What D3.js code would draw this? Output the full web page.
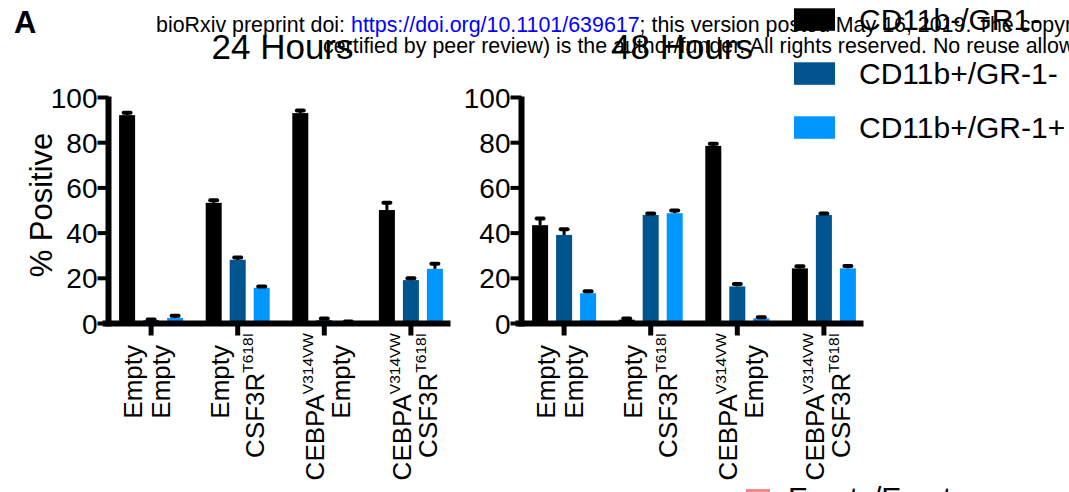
<!DOCTYPE html>
<html>
<head>
<meta charset="utf-8">
<script src="https://cdn.jsdelivr.net/npm/d3@7"></script>
<style>
  html, body { margin: 0; padding: 0; background: #fff; }
  svg { display: block; }
  text { font-family: "Liberation Sans", Arial, sans-serif; }
</style>
</head>
<body>
<svg id="chart" width="1069" height="492"></svg>
<script>
// ---------------- DATA ----------------
const seriesNames = ["CD11b-/GR1-", "CD11b+/GR-1-", "CD11b+/GR-1+"];
const panelTitles = ["24 Hours", "48 Hours"];
const groupIds = ["g1", "g2", "g3", "g4"];
const labelLine1 = ["Empty", "Empty", "CEBPA", "CEBPA"];
const labelLine1Sup = ["", "", "V314VW", "V314VW"];
const labelLine2 = ["Empty", "CSF3R", "Empty", "CSF3R"];
const labelLine2Sup = ["", "T618I", "", "T618I"];
const yTicks = [0, 20, 40, 60, 80, 100];
const yLabel = "% Positive";

// 24 hours
const h24_neg = [92.2, 53.4, 93.1, 50.2];
const h24_neg_err = [1.1, 1.1, 1.2, 3.2];
const h24_mid = [1.5, 28.2, 1.5, 19.2];
const h24_mid_err = [0.3, 1.0, 0.7, 0.8];
const h24_pos = [2.5, 15.8, 0.6, 24.2];
const h24_pos_err = [0.9, 0.6, 0.3, 2.2];
// 48 hours
const h48_neg = [43.5, 1.7, 78.6, 24.4];
const h48_neg_err = [3.0, 0.5, 0.9, 0.9];
const h48_mid = [39.2, 48.0, 16.4, 48.0];
const h48_mid_err = [2.5, 0.7, 1.1, 0.7];
const h48_pos = [13.4, 48.8, 2.3, 24.4];
const h48_pos_err = [0.9, 1.2, 0.5, 1.0];

const secondLegendLabel = "Empty/Empty";
const headerLine1a = "bioRxiv preprint doi: ";
const headerLink = "https://doi.org/10.1101/639617";
const headerLine1b = "; this version posted May 16, 2019. The copyright holder for this preprint (which was not";
const headerLine2 = "certified by peer review) is the author/funder. All rights reserved. No reuse allowed without permission.";

// ---------------- LAYOUT ----------------
const colors = ["#000000", "#00548F", "#0096FF"];
const svg = d3.select("#chart");

const panels = [
  { title: panelTitles[0], x0: 108.5, titleX: 282.5,
    vals: [h24_neg, h24_mid, h24_pos], errs: [h24_neg_err, h24_mid_err, h24_pos_err] },
  { title: panelTitles[1], x0: 521.5, titleX: 682,
    vals: [h48_neg, h48_mid, h48_pos], errs: [h48_neg_err, h48_mid_err, h48_pos_err] }
];

const y = d3.scaleLinear().domain([0, 100]).range([323.5, 97.5]);

// header watermark (drawn first)
const hdr = svg.append("g").attr("font-size", 21.4).attr("fill", "#000");
const l1 = hdr.append("text").attr("x", 156).attr("y", 31.5);
l1.append("tspan").text(headerLine1a);
l1.append("tspan").attr("fill", "#0000FF").text(headerLink);
l1.append("tspan").text(headerLine1b);
hdr.append("text").attr("x", 323).attr("y", 53).text(headerLine2);

// Panel letter
svg.append("text").attr("x", 14).attr("y", 32.5).attr("font-size", 31)
  .attr("font-weight", "bold").text("A");

// Y label
svg.append("text")
  .attr("transform", "translate(52,205) rotate(-90)")
  .attr("text-anchor", "middle").attr("font-size", 31).text(yLabel);

panels.forEach(p => {
  const g = svg.append("g");
  const xg = d3.scaleBand().domain(groupIds).range([p.x0 - 0.7, p.x0 + 345.7]).padding(0);
  const xs = d3.scaleBand().domain(seriesNames).range([-36, 36]).paddingInner(1/3).paddingOuter(1/6);

  // bars
  p.vals.forEach((vals, si) => {
    g.selectAll(null).data(vals).enter().append("rect")
      .attr("x", (d, i) => xg(groupIds[i]) + xg.bandwidth() / 2 + xs(seriesNames[si]))
      .attr("width", xs.bandwidth())
      .attr("y", d => y(d))
      .attr("height", d => y(0) - y(d))
      .attr("fill", colors[si]);
  });
  // error bars
  p.vals.forEach((vals, si) => {
    const errs = p.errs[si];
    vals.forEach((v, i) => {
      const cx = xg(groupIds[i]) + xg.bandwidth() / 2 + xs(seriesNames[si]) + xs.bandwidth() / 2;
      const top = y(v + errs[i]);
      g.append("line").attr("x1", cx).attr("x2", cx).attr("y1", y(v)).attr("y2", top)
        .attr("stroke", "#000").attr("stroke-width", 3);
      g.append("line").attr("x1", cx - 3.5).attr("x2", cx + 3.5).attr("y1", top).attr("y2", top)
        .attr("stroke", "#000").attr("stroke-width", 4).attr("stroke-linecap", "round");
    });
  });

  // y axis
  g.append("line").attr("x1", p.x0).attr("x2", p.x0).attr("y1", y(100) - 1).attr("y2", y(0) + 3)
    .attr("stroke", "#000").attr("stroke-width", 6);
  yTicks.forEach(t => {
    g.append("line").attr("x1", p.x0 - 11).attr("x2", p.x0).attr("y1", y(t)).attr("y2", y(t))
      .attr("stroke", "#000").attr("stroke-width", 4);
    g.append("text").attr("x", p.x0 - 11).attr("y", y(t)).attr("dy", "0.36em")
      .attr("text-anchor", "end").attr("font-size", 28).text(t);
  });
  // x axis
  g.append("line").attr("x1", p.x0 - 6).attr("x2", p.x0 + 342).attr("y1", y(0)).attr("y2", y(0))
    .attr("stroke", "#000").attr("stroke-width", 6);
  groupIds.forEach((gid, i) => {
    const tx = xg(gid) + xg.bandwidth() / 2;
    g.append("line").attr("x1", tx).attr("x2", tx).attr("y1", y(0)).attr("y2", y(0) + 12)
      .attr("stroke", "#000").attr("stroke-width", 5);
    const s1 = labelLine1Sup[i] !== "", s2 = labelLine2Sup[i] !== "";
    const lines = [
      { main: labelLine1[i], sup: labelLine1Sup[i], off: -9 + (s1 ? 9 : 0) },
      { main: labelLine2[i], sup: labelLine2Sup[i], off: 19 + ((s1 || s2) ? 7 : 0) }
    ];
    lines.forEach(L => {
      const yEnd = L.sup ? 333 : 345;
      const t = g.append("text")
        .attr("transform", `translate(${tx + L.off},${yEnd}) rotate(-90)`)
        .attr("text-anchor", "end").attr("font-size", 26);
      t.append("tspan").text(L.main);
      if (L.sup) t.append("tspan").attr("font-size", 15.5).attr("dy", -11).text(L.sup);
    });
  });

  // title
  svg.append("text").attr("x", p.titleX).attr("y", 58.5).attr("text-anchor", "middle")
    .attr("font-size", 35).text(p.title);
});

// legend
const lg = svg.append("g");
seriesNames.forEach((s, i) => {
  lg.append("rect").attr("x", 794).attr("y", 8.3 + i * 54).attr("width", 41).attr("height", 22.5)
    .attr("fill", colors[i]);
  lg.append("text").attr("x", 859).attr("y", 29.5 + i * 54).attr("font-size", 30).text(s);
});
// second legend (clipped at bottom)
lg.append("rect").attr("x", 746).attr("y", 489).attr("width", 24).attr("height", 22).attr("fill", "#F4878E");
lg.append("text").attr("x", 788).attr("y", 508).attr("font-size", 30).text(secondLegendLabel);
</script>
</body>
</html>
